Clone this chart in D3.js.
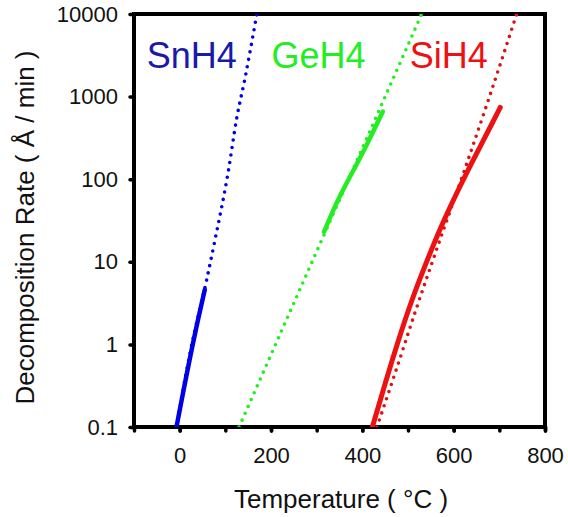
<!DOCTYPE html>
<html>
<head>
<meta charset="utf-8">
<script src="https://cdn.jsdelivr.net/npm/d3@7"></script>
<style>
  body { margin: 0; background: #fff; }
  text { font-family: Arial, "Liberation Sans", sans-serif; }
</style>
</head>
<body>
<div id="chart"></div>
<script>
// tick values
var xTickLabels = [0, 200, 400, 600, 800];
var xTickMinor = [-100, 0, 100, 200, 300, 400, 500, 600, 700, 800];
var yTickValues = [0.1, 1, 10, 100, 1000, 10000];

// SnH4 (temperature in C, rate in A/min)
var snFitTemp = [-7, 23, 59, 77, 106, 125, 143, 169];
var snFitRate = [0.1, 0.8, 6.0, 18, 120, 550, 1660, 10000];
var snDataTemp = [-7, 8, 23, 40, 55];
var snDataRate = [0.1, 0.27, 0.71, 2.0, 4.6];

// GeH4
var geFitTemp = [130, 210, 290, 370, 450, 530];
var geFitRate = [0.1, 1, 10, 100, 1000, 10000];
var geDataTemp = [316, 345, 373, 410, 445];
var geDataRate = [23, 55, 107, 260, 660];

// SiH4
var siFitTemp = [432, 473, 515, 566, 625, 676, 738];
var siFitRate = [0.1, 0.47, 2.4, 15.9, 135, 910, 10000];
var siDataTemp = [422, 450, 479, 508, 542, 572, 606, 639, 669, 702];
var siDataRate = [0.1, 0.34, 1.13, 3.45, 10.5, 26.6, 67, 156, 325, 740];

// labels
var seriesNames = ["SnH4", "GeH4", "SiH4"];
var seriesColors = ["#0000e6", "#22ee22", "#ee1111"];
var labelColors = ["#1a1aa8", "#22ee22", "#ee1111"];
var labelTemp = [-72, 201, 504];
var labelRate = [2200, 2200, 2200];

var width = 568, height = 517;
var margin = {top: 14, right: 23, bottom: 90, left: 134};
var plotW = width - margin.left - margin.right,
    plotH = height - margin.top - margin.bottom;

var x = d3.scaleLinear().domain([-100, 800]).range([0, plotW]);
var y = d3.scaleLog().domain([0.1, 10000]).range([plotH, 0]);

var svg = d3.select("#chart").append("svg")
    .attr("width", width)
    .attr("height", height);

var g = svg.append("g")
    .attr("transform", "translate(" + margin.left + "," + margin.top + ")");

g.append("clipPath").attr("id", "clip")
  .append("rect").attr("width", plotW).attr("height", plotH);

// x axis minor ticks (no labels)
g.append("g")
    .attr("transform", "translate(0," + plotH + ")")
    .call(d3.axisBottom(x).tickValues(xTickMinor).tickSize(4).tickFormat(""))
    .call(function(a) { a.select(".domain").remove(); });

// x axis labels
var xAxis = g.append("g")
    .attr("class", "xaxis")
    .attr("transform", "translate(0," + plotH + ")")
    .call(d3.axisBottom(x).tickValues(xTickLabels).tickSize(4).tickPadding(16).tickFormat(d3.format("d")));
xAxis.select(".domain").remove();

// y axis
var yAxis = g.append("g")
    .call(d3.axisLeft(y).tickValues(yTickValues).tickSize(4).tickPadding(12)
      .tickFormat(function(d) { return d < 1 ? "0.1" : d3.format("d")(d); }));
yAxis.select(".domain").remove();

g.selectAll(".tick line")
    .attr("stroke", "#000")
    .attr("stroke-width", 3.5)
    .attr("stroke-linecap", "round");
g.selectAll(".tick text")
    .attr("fill", "#111")
    .style("font-size", "22px");

// frame
g.append("rect")
    .attr("width", plotW)
    .attr("height", plotH)
    .attr("fill", "none")
    .attr("stroke", "#000")
    .attr("stroke-width", 4);

var fitLine = d3.line()
    .x(function(d) { return x(d[0]); })
    .y(function(d) { return y(d[1]); })
    .curve(d3.curveMonotoneX);

// measured curves are smoothed a bit
var dataLine = d3.line()
    .x(function(d) { return x(d[0]); })
    .y(function(d) { return y(d[1]); })
    .curve(d3.curveBasis);

function zip(a, b) { return a.map(function(v, i) { return [v, b[i]]; }); }

var fits = [zip(snFitTemp, snFitRate), zip(geFitTemp, geFitRate), zip(siFitTemp, siFitRate)];
var datas = [zip(snDataTemp, snDataRate), zip(geDataTemp, geDataRate), zip(siDataTemp, siDataRate)];

var plot = g.append("g").attr("clip-path", "url(#clip)");

// dotted fits
plot.selectAll(".fit")
    .data(fits)
  .enter().append("path")
    .attr("class", "fit")
    .attr("d", fitLine)
    .attr("fill", "none")
    .attr("stroke", function(d, i) { return i == 2 ? "#dd1111" : seriesColors[i]; })
    .attr("stroke-width", 3.6)
    .attr("stroke-linecap", "round")
    .attr("stroke-dasharray", "0,7.5");

// solid measured curves
plot.selectAll(".meas")
    .data(datas)
  .enter().append("path")
    .attr("class", "meas")
    .attr("d", dataLine)
    .attr("fill", "none")
    .attr("stroke", function(d, i) { return seriesColors[i]; })
    .attr("stroke-width", function(d, i) { return i == 2 ? 5 : 4.5; })
    .attr("stroke-linecap", "round");

// series labels
g.selectAll(".label")
    .data(seriesNames)
  .enter().append("text")
    .attr("class", "label")
    .attr("x", function(d, i) { return x(labelTemp[i]); })
    .attr("y", function(d, i) { return y(labelRate[i]); })
    .attr("fill", function(d, i) { return labelColors[i]; })
    .style("font-size", "36px")
    .text(function(d) { return d; });

// axis titles
svg.append("text")
    .attr("x", 341)
    .attr("y", 508)
    .attr("text-anchor", "middle")
    .attr("fill", "#111")
    .style("font-size", "26px")
    .text("Temperature ( °C )");

svg.append("text")
    .attr("transform", "translate(34," + (margin.top + plotH / 2 + 7) + ") rotate(-90)")
    .attr("text-anchor", "middle")
    .attr("fill", "#111")
    .style("font-size", "26px")
    .text("Decomposition Rate ( Å / min )");
</script>
</body>
</html>
